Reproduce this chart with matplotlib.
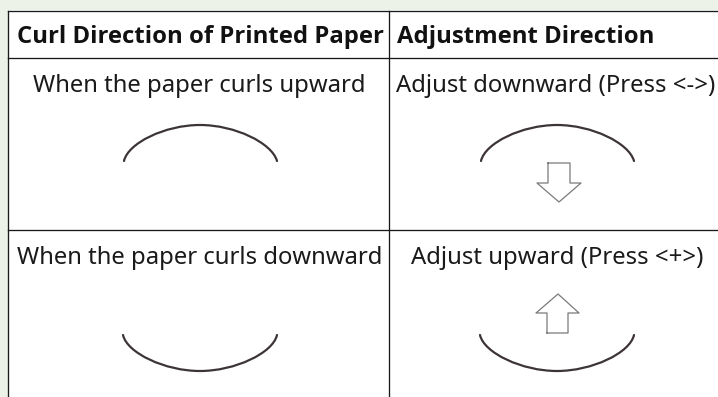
import matplotlib
matplotlib.use("Agg")
import matplotlib.pyplot as plt
from matplotlib.path import Path
from matplotlib.patches import PathPatch, Rectangle

W, H = 718, 397

headers = ["Curl Direction of Printed Paper", "Adjustment Direction"]
row_labels = [
    ["When the paper curls upward", "Adjust downward (Press <->)"],
    ["When the paper curls downward", "Adjust upward (Press <+>)"],
]

# curve end, control, control, mid, control, control, end (pixels of the reference)
curl_up_x = [124, 128, 165, 200, 235, 272, 277]
curl_up_y = [161, 143, 125, 125, 125, 143, 161]
curl_down_x = [123, 127, 165, 200, 235, 273, 277]
curl_down_y = [335, 353, 371, 371, 371, 353, 335]

arrow_down_x = [548, 570, 570, 581, 559, 537, 548, 548]
arrow_down_y = [163, 163, 183, 183, 202, 183, 183, 163]
arrow_up_x = [547, 568, 568, 579, 558, 536, 547, 547]
arrow_up_y = [333, 333, 313, 313, 294, 313, 313, 333]

bg_color = "#ecf2e8"
line_color = "#1a1a1a"
curve_color = "#3d3535"
arrow_color = "#7a7a7a"

plt.rcParams["font.family"] = "Noto Sans"

fig = plt.figure(figsize=(W / 100, H / 100), dpi=100, facecolor=bg_color)
ax = fig.add_axes([0, 0, 1, 1])
ax.set_xlim(0, W)
ax.set_ylim(H, 0)
ax.axis("off")

# table body
ax.add_patch(Rectangle((8, 10), W - 8, H - 10, facecolor="white", edgecolor="none"))
ax.plot([7.5, W], [10.5, 10.5], color=line_color, lw=0.95)
ax.plot([7.5, W], [57.6, 57.6], color=line_color, lw=0.95)
ax.plot([7.5, W], [230, 230], color=line_color, lw=0.95)
ax.plot([7.7, 7.7], [10.5, H], color=line_color, lw=0.95)
ax.plot([389, 389], [10.5, H], color=line_color, lw=0.95)

# text
ax.text(17, 43, headers[0], fontsize=17.2, family="Open Sans", fontweight="bold", color="#111111", va="baseline")
ax.text(397, 43, headers[1], fontsize=17.2, family="Open Sans", fontweight="bold", color="#111111", va="baseline")
ax.text(199.5, 92, row_labels[0][0], fontsize=17.2, color="#1a1a1a", ha="center", va="baseline")
ax.text(556, 92, row_labels[0][1], fontsize=17.2, color="#1a1a1a", ha="center", va="baseline")
ax.text(199.5, 264, row_labels[1][0], fontsize=17.2, color="#1a1a1a", ha="center", va="baseline")
ax.text(557, 264, row_labels[1][1], fontsize=17.2, color="#1a1a1a", ha="center", va="baseline")


def draw_curve(xs, ys, dx=0):
    codes = [Path.MOVETO] + [Path.CURVE4] * 6
    verts = [(x + dx, y) for x, y in zip(xs, ys)]
    ax.add_patch(PathPatch(Path(verts, codes), facecolor="none", edgecolor=curve_color,
                           lw=1.6, capstyle="round"))


draw_curve(curl_up_x, curl_up_y)
draw_curve(curl_up_x, curl_up_y, dx=357)
draw_curve(curl_down_x, curl_down_y)
draw_curve(curl_down_x, curl_down_y, dx=357)

ax.plot(arrow_down_x, arrow_down_y, color=arrow_color, lw=0.9)
ax.plot(arrow_up_x, arrow_up_y, color=arrow_color, lw=0.9)

fig.savefig("out.png", dpi=100, facecolor=bg_color)
